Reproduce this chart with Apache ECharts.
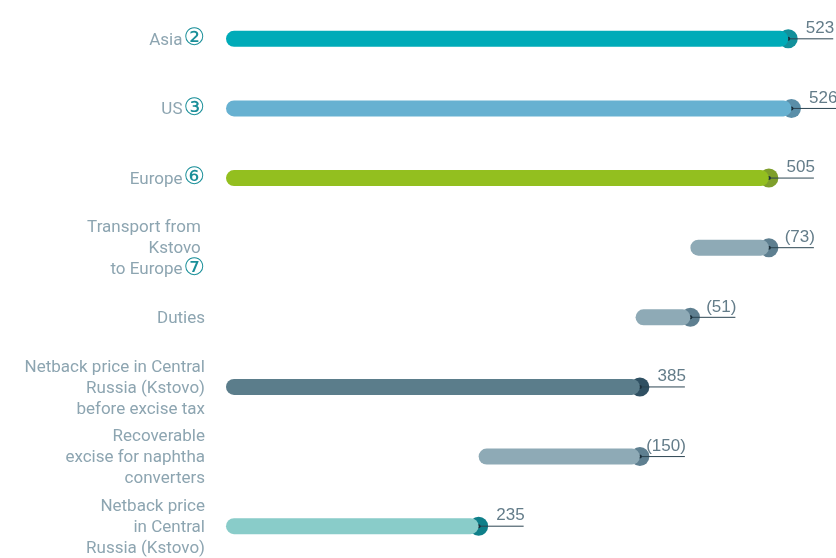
<!DOCTYPE html>
<html>
<head>
<meta charset="utf-8">
<script src="https://cdn.jsdelivr.net/npm/echarts@6/dist/echarts.min.js"></script>
<style>
  html, body { margin: 0; padding: 0; background: #fff; }
  #chart { width: 836px; height: 558px; }
</style>
</head>
<body>
<div id="chart"></div>
<script>
// categories, top to bottom
const categories = [
  'Asia', 'US', 'Europe', 'Transport from Europe', 'Duties',
  'Netback before excise', 'Recoverable excise', 'Netback price'
];
// label text shown on the axis (rich tags added below)
const axisTexts = [
  ['Asia'], ['US'], ['Europe'],
  ['Transport from ', 'Kstovo ', 'to Europe'],
  ['Duties'],
  ['Netback price in Central', 'Russia (Kstovo)', 'before excise tax'],
  ['Recoverable', 'excise for naphtha', 'converters'],
  ['Netback price', 'in Central', 'Russia (Kstovo)']
];
const footnotes = ['②', '③', '⑥', '⑦', '', '', '', ''];

// waterfall: each bar runs from stepLow to stepHigh
const stepLow  = [0, 0, 0, 432, 381, 0, 235, 0];
const stepHigh = [523, 526, 505, 505, 432, 385, 385, 235];
const valueLabels = ['523', '526', '505', '(73)', '(51)', '385', '(150)', '235'];

const barColors = ['#00abb8', '#67b1d1', '#93bf1f', '#8eaab6', '#8eaab6', '#5b7d8b', '#8eaab6', '#89ccc9'];
const dotColors = ['#13909b', '#5a8ea8', '#7e9f2b', '#5e7f90', '#5e7f90', '#2f5062', '#5e7f90', '#0f7f89'];

const chart = echarts.init(document.getElementById('chart'));

const axisLabelText = (i) => {
  const lines = axisTexts[i];
  return lines.map((l, k) => {
    let s = '{t|' + l + '}';
    if (k === lines.length - 1 && footnotes[i]) s += '{n|' + footnotes[i] + '}';
    return s;
  }).join('\n');
};

const option = {
  animation: false,
  grid: { left: 226, right: 8, top: 4, height: 557, outerBoundsMode: 'none' },
  xAxis: {
    type: 'value', min: 0, max: 560,
    show: false, splitLine: { show: false }
  },
  yAxis: {
    type: 'category',
    data: categories,
    inverse: true,
    axisLine: { show: false },
    axisTick: { show: false },
    axisLabel: {
      margin: 21,
      formatter: (v, i) => axisLabelText(i),
      rich: {
        t: { fontFamily: 'Roboto', fontSize: 17, color: '#8da5b1', lineHeight: 21, align: 'right', padding: [3, 0, 0, 0] },
        n: { fontFamily: 'DejaVu Sans', fontSize: 24, color: '#1a8f99', lineHeight: 21, align: 'right', padding: [0, 0, 0, 1] }
      }
    }
  },
  series: [
    {
      type: 'bar',
      stack: 'w',
      barWidth: 16,
      itemStyle: { color: 'transparent' },
      data: stepLow,
      silent: true
    },
    {
      type: 'bar',
      stack: 'w',
      barWidth: 16,
      data: stepHigh.map((h, i) => ({
        value: h - stepLow[i],
        itemStyle: { color: barColors[i], borderRadius: 8 }
      }))
    },
    {
      type: 'custom',
      clip: false,
      data: stepHigh.map((h, i) => [h, i]),
      encode: { x: 0, y: 1 },
      renderItem: (params, api) => {
        const i = params.dataIndex;
        const p = api.coord([api.value(0), api.value(1)]);
        return {
          type: 'group',
          children: [
            { type: 'circle', shape: { cx: p[0], cy: p[1], r: 9.5 }, style: { fill: dotColors[i] } },
            { type: 'line', shape: { x1: p[0], y1: p[1], x2: p[0] + 45, y2: p[1] },
              style: { stroke: '#2c4552', lineWidth: 1 } },
            { type: 'circle', shape: { cx: p[0], cy: p[1], r: 2 }, style: { fill: '#1b2f3a' } },
            { type: 'text', x: p[0] + 46, y: p[1] - 2,
              style: { text: valueLabels[i], align: 'right', verticalAlign: 'bottom',
                       font: '17px "Liberation Sans"', fill: '#637c89' } }
          ]
        };
      }
    }
  ]
};

chart.setOption(option);
</script>
</body>
</html>
